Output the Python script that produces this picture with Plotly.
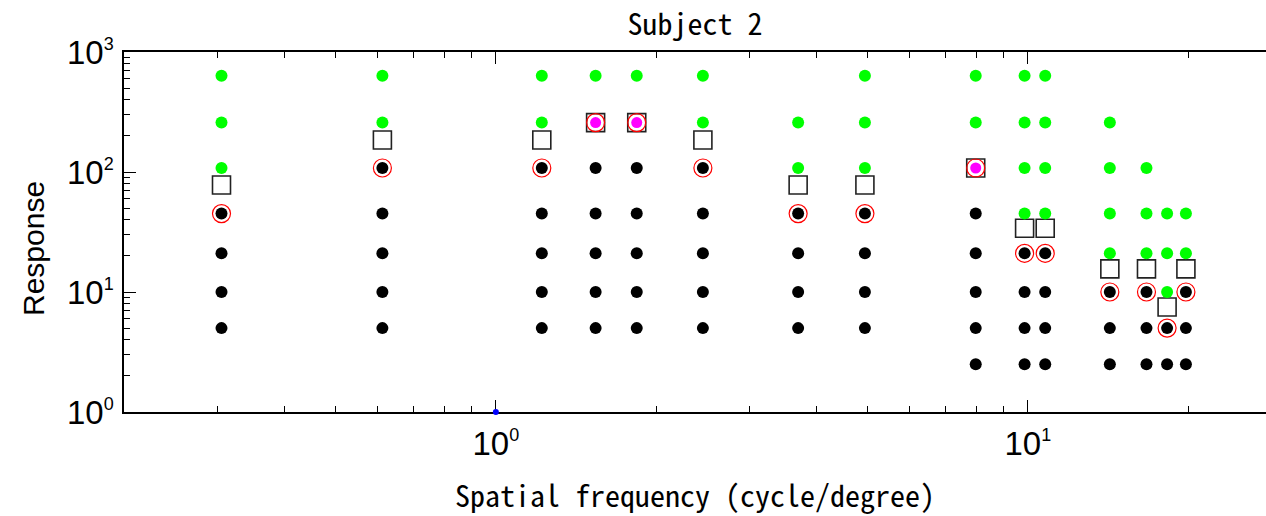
import math
import plotly.graph_objects as go

# ---- data ----
freq = [0.305, 0.612, 1.22, 1.54, 1.84, 2.45, 3.70, 4.94, 7.98, 9.86, 10.78,
        14.26, 16.71, 18.27, 19.82]
green_resp = [[635, 258, 108], [635, 258], [635, 258], [635], [635],
              [635, 258], [258, 108], [635, 258, 108], [635, 258],
              [635, 258, 108, 45], [635, 258, 108, 45], [258, 108, 45, 21],
              [108, 45, 21], [45, 21, 10], [45, 21]]
black_resp = [[45, 21, 10, 5], [108, 45, 21, 10, 5], [108, 45, 21, 10, 5],
              [108, 45, 21, 10, 5], [108, 45, 21, 10, 5], [108, 45, 21, 10, 5],
              [45, 21, 10, 5], [45, 21, 10, 5], [45, 21, 10, 5, 2.5],
              [21, 10, 5, 2.5], [21, 10, 5, 2.5], [10, 5, 2.5], [10, 5, 2.5],
              [5, 2.5], [10, 5, 2.5]]
magenta_freq = [1.54, 1.84, 7.98]
magenta_resp = [258, 258, 108]
circled_resp = [45, 108, 108, 258, 258, 108, 45, 45, 108, 21, 21, 10, 10, 5, 10]
threshold_resp = [78, 185, 185, 258, 258, 185, 78, 78, 108, 34, 34, 15.6, 15.6, 7.5, 15.6]
origin_x = [1]
origin_y = [1]

tick_vals = [1, 10, 100, 1000]
tick_exps = ["0", "1", "2", "3"]
x_title = "Spatial frequency (cycle/degree)"
y_title = "Response"
title = "Subject 2"

# ---- flatten ----
gx, gy, bx, by = [], [], [], []
for f, gl, bl in zip(freq, green_resp, black_resp):
    gx += [f] * len(gl)
    gy += gl
    bx += [f] * len(bl)
    by += bl

tick_text = ["10<sup><span style='font-size:18px'>%s</span></sup>" % e for e in tick_exps]
minor_vals = [m * 10 ** d for d in range(-1, 4) for m in range(2, 10)]

fig = go.Figure()
fig.add_trace(go.Scatter(x=freq, y=threshold_resp, mode="markers",
                         marker=dict(symbol="square-open", size=18, color="#222222",
                                     line=dict(width=1.6, color="#222222"))))
fig.add_trace(go.Scatter(x=gx, y=gy, mode="markers",
                         marker=dict(symbol="circle", size=12, color="#00ff00")))
fig.add_trace(go.Scatter(x=bx, y=by, mode="markers",
                         marker=dict(symbol="circle", size=12, color="black")))
fig.add_trace(go.Scatter(x=magenta_freq, y=magenta_resp, mode="markers",
                         marker=dict(symbol="circle", size=11, color="#ff00ff")))
fig.add_trace(go.Scatter(x=freq, y=circled_resp, mode="markers",
                         marker=dict(symbol="circle-open", size=18, color="#ff0000",
                                     line=dict(width=1.2, color="#ff0000"))))
fig.add_trace(go.Scatter(x=origin_x, y=origin_y, mode="markers", cliponaxis=False,
                         marker=dict(symbol="circle", size=6, color="#0000ff")))

W, H = 1266, 516
L, T, B = 124, 52, 104
PW, PH = W - L, H - T - B
x0 = math.log10(0.2)
xpx_per_dec = 532.0
x1 = x0 + PW / xpx_per_dec

jp_font = "Noto Sans Mono CJK JP, Noto Sans CJK JP"
axis_common = dict(type="log", showgrid=False, zeroline=False, showline=True,
                   linecolor="black", linewidth=1.5, ticks="inside", ticklen=12,
                   tickwidth=1.2, tickcolor="black", tickmode="array",
                   tickvals=tick_vals, ticktext=tick_text,
                   tickfont=dict(family="Liberation Sans, Arial", size=33, color="black"),
                   layer="below traces",
                   minor=dict(ticks="inside", ticklen=6, tickwidth=1, tickcolor="black",
                              tickmode="array", tickvals=minor_vals, showgrid=False))

fig.update_layout(
    width=W, height=H,
    margin=dict(l=L, r=0, t=T, b=B),
    paper_bgcolor="white", plot_bgcolor="white",
    showlegend=False,
    title=dict(text=title, x=0.5, xref="paper", xanchor="center",
               y=1 - 24 / H, yref="container", yanchor="middle",
               font=dict(family=jp_font, size=30, color="black")),
    xaxis=dict(axis_common, range=[x0, x1], mirror="ticks", ticklabelstandoff=2),
    yaxis=dict(axis_common, range=[0, 3], mirror=False, ticklabelstandoff=2),
    annotations=[
        dict(text=x_title, xref="paper", yref="paper", x=(695 - L) / PW,
             y=(PH - (494 - T)) / PH, xanchor="center", yanchor="middle",
             showarrow=False, font=dict(family=jp_font, size=30, color="black")),
        dict(text=y_title, xref="paper", yref="paper", x=(33 - L) / PW,
             y=(PH - (249 - T)) / PH, xanchor="center", yanchor="middle",
             textangle=-90, showarrow=False,
             font=dict(family="Liberation Sans, Arial", size=30, color="black")),
    ],
)

fig.write_html("out.html")
